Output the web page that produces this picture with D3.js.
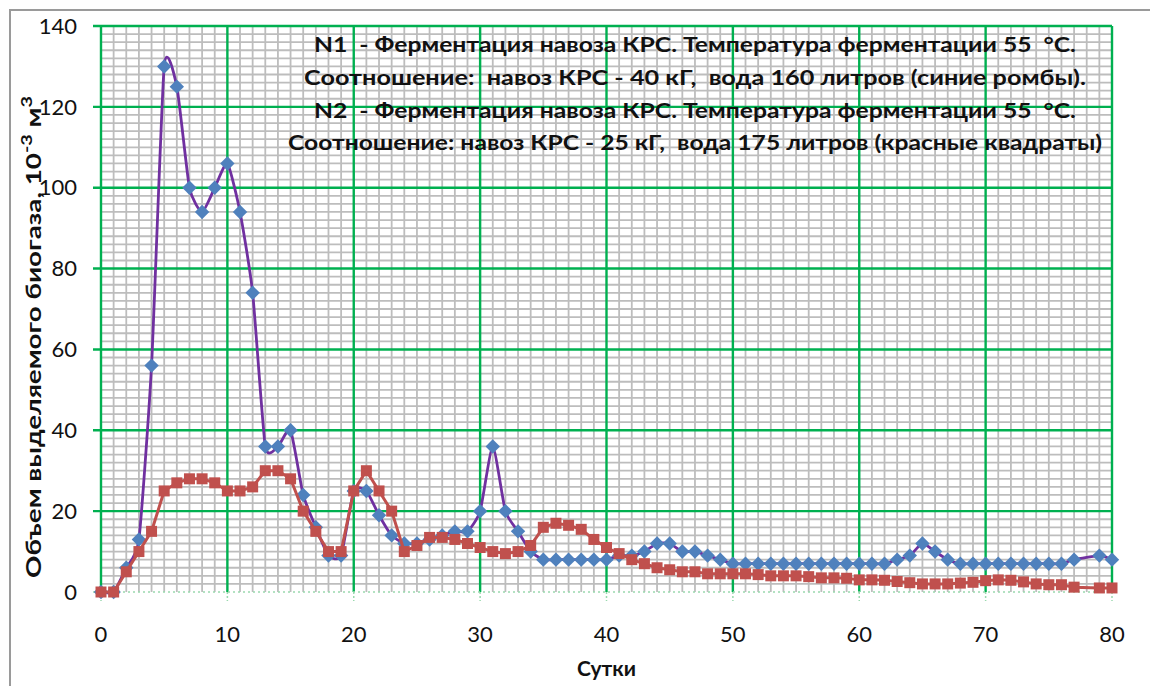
<!DOCTYPE html>
<html>
<head>
<meta charset="utf-8">
<script src="https://cdn.jsdelivr.net/npm/d3@7"></script>
<style>
  body { margin: 0; background: #fff; }
  svg { display: block; font-family: Lato, "Open Sans", sans-serif; }
  text { white-space: pre; }
</style>
</head>
<body>
<script>
const width = 1150, height = 686;

// days (no measurement on day 78)
const days = [0, 1, 2, 3, 4, 5, 6, 7, 8, 9, 10, 11, 12, 13, 14, 15, 16, 17, 18, 19,
    20, 21, 22, 23, 24, 25, 26, 27, 28, 29, 30, 31, 32, 33, 34, 35, 36, 37, 38, 39,
    40, 41, 42, 43, 44, 45, 46, 47, 48, 49, 50, 51, 52, 53, 54, 55, 56, 57, 58, 59,
    60, 61, 62, 63, 64, 65, 66, 67, 68, 69, 70, 71, 72, 73, 74, 75, 76, 77, 79, 80];

// N1 - blue diamonds
const seriesN1 = [0, 0, 6, 13, 56, 130, 125, 100, 94, 100, 106, 94, 74, 36, 36, 40, 24, 16, 9, 9,
    25, 25, 19, 14, 12, 12, 13, 14, 15, 15, 20, 36, 20, 15, 10, 8, 8, 8, 8, 8,
    8, 9, 9, 10, 12, 12, 10, 10, 9, 8, 7, 7, 7, 7, 7, 7, 7, 7, 7, 7,
    7, 7, 7, 8, 9, 12, 10, 8, 7, 7, 7, 7, 7, 7, 7, 7, 7, 8, 9, 8];

// N2 - red squares
const seriesN2 = [0, 0, 5, 10, 15, 25, 27, 28, 28, 27, 25, 25, 26, 30, 30, 28, 20, 15, 10, 10,
    25, 30, 25, 20, 10, 11.5, 13.5, 13.5, 13, 12, 11, 10, 9.5, 10, 11.5, 16, 17, 16.5, 15.5, 13,
    11, 9.5, 8, 7, 6, 5.5, 5, 5, 4.5, 4.5, 4.5, 4.5, 4.3, 4, 4, 4, 3.8, 3.5, 3.5, 3.4,
    3, 3, 2.9, 2.6, 2.3, 2, 2, 2, 2.2, 2.4, 2.8, 3, 2.9, 2.5, 2, 1.8, 1.8, 1.2, 1, 1];

const xTicks = [0, 10, 20, 30, 40, 50, 60, 70, 80];
const yTicks = [0, 20, 40, 60, 80, 100, 120, 140];

const noteLines = [
    "N1  - Ферментация навоза КРС. Температура ферментации 55  °С.",
    "Соотношение:  навоз КРС - 40 кГ,  вода 160 литров (синие ромбы).",
    "N2  - Ферментация навоза КРС. Температура ферментации 55  °С.",
    "Соотношение: навоз КРС - 25 кГ,  вода 175 литров (красные квадраты)"
];

const plot = { left: 101, right: 1112, top: 26, bottom: 592 };

const svg = d3.select("body").append("svg")
    .attr("width", width)
    .attr("height", height);

// outer chart border
svg.append("rect")
    .attr("x", 10).attr("y", 10)
    .attr("width", width + 20).attr("height", height + 20)
    .attr("fill", "none")
    .attr("stroke", "#9a9a9a")
    .attr("stroke-width", 2);

const x = d3.scaleLinear().domain([0, 80]).range([plot.left, plot.right]);
const y = d3.scaleLinear().domain([0, 140]).range([plot.bottom, plot.top]);

// minor grid
const g = svg.append("g");
g.selectAll(".vminor")
    .data(d3.range(1, 80).filter(d => d % 10 !== 0))
    .enter().append("line")
    .attr("x1", d => x(d)).attr("x2", d => x(d))
    .attr("y1", plot.top).attr("y2", plot.bottom)
    .attr("stroke", "#bdbdbd").attr("stroke-width", 1.8);

g.selectAll(".hminor")
    .data(d3.range(2, 140, 2).filter(d => d % 20 !== 0))
    .enter().append("line")
    .attr("x1", plot.left).attr("x2", plot.right)
    .attr("y1", d => y(d)).attr("y2", d => y(d))
    .attr("stroke", "#bdbdbd").attr("stroke-width", 1.8);

// major grid (green)
g.selectAll(".vmajor")
    .data(xTicks.slice(1))
    .enter().append("line")
    .attr("x1", d => x(d)).attr("x2", d => x(d))
    .attr("y1", plot.top).attr("y2", plot.bottom)
    .attr("stroke", "#00b050").attr("stroke-width", 2.4);

g.selectAll(".hmajor")
    .data(yTicks.slice(1))
    .enter().append("line")
    .attr("x1", plot.left - 8).attr("x2", plot.right)
    .attr("y1", d => y(d)).attr("y2", d => y(d))
    .attr("stroke", "#00b050").attr("stroke-width", 2.4);

// y axis line
g.append("line")
    .attr("x1", plot.left).attr("x2", plot.left)
    .attr("y1", plot.top).attr("y2", plot.bottom)
    .attr("stroke", "#00b050").attr("stroke-width", 2.4);

// x axis (dotted light green)
g.append("line")
    .attr("x1", plot.left - 8).attr("x2", plot.right)
    .attr("y1", plot.bottom).attr("y2", plot.bottom)
    .attr("stroke", "#9ad9ae").attr("stroke-width", 1.5)
    .attr("stroke-dasharray", "2,3");

g.selectAll(".xtick")
    .data(xTicks)
    .enter().append("line")
    .attr("x1", d => x(d)).attr("x2", d => x(d))
    .attr("y1", plot.bottom).attr("y2", plot.bottom + 9)
    .attr("stroke", "#9ad9ae").attr("stroke-width", 1.5)
    .attr("stroke-dasharray", "2,2");

// tick labels
svg.selectAll(".ylabel")
    .data(yTicks)
    .enter().append("text")
    .attr("x", 77)
    .attr("y", d => y(d))
    .attr("dy", "0.35em")
    .attr("text-anchor", "end")
    .attr("font-size", "22px")
    .attr("fill", "#111")
    .text(d => d);

svg.selectAll(".xlabel")
    .data(xTicks)
    .enter().append("text")
    .attr("x", d => x(d))
    .attr("y", 634)
    .attr("dy", "0.35em")
    .attr("text-anchor", "middle")
    .attr("font-size", "22px")
    .attr("fill", "#111")
    .text(d => d);

// axis titles
svg.append("text")
    .attr("x", (plot.left + plot.right) / 2)
    .attr("y", 676)
    .attr("text-anchor", "middle")
    .attr("font-size", "21px")
    .attr("font-weight", "bold")
    .attr("fill", "#111")
    .text("Сутки");

const yTitle = svg.append("text")
    .attr("transform", "translate(41,337) rotate(-90)")
    .attr("text-anchor", "middle")
    .attr("font-size", "21px")
    .attr("font-weight", "bold")
    .attr("fill", "#111")
    .attr("textLength", 482)
    .attr("lengthAdjust", "spacingAndGlyphs");
yTitle.append("tspan").text("Объем выделяемого биогаза, 10");
yTitle.append("tspan").attr("baseline-shift", "super").attr("font-size", "15px").text("-3");
yTitle.append("tspan").text(" м");
yTitle.append("tspan").attr("baseline-shift", "super").attr("font-size", "15px").text("3");

// annotation
const noteY = [52, 85, 118, 150];
const noteW = [762, 782, 762, 814];
svg.selectAll(".note")
    .data(noteLines)
    .enter().append("text")
    .attr("x", 695)
    .attr("y", (d, i) => noteY[i])
    .attr("text-anchor", "middle")
    .attr("font-size", "21px")
    .attr("font-weight", "bold")
    .attr("fill", "#111")
    .attr("textLength", (d, i) => noteW[i])
    .attr("lengthAdjust", "spacingAndGlyphs")
    .text(d => d);

// series
const n1 = days.map((d, i) => ({ day: d, v: seriesN1[i] }));
const n2 = days.map((d, i) => ({ day: d, v: seriesN2[i] }));

svg.append("path")
    .datum(n1)
    .attr("fill", "none")
    .attr("stroke", "#7030a0")
    .attr("stroke-width", 2.8)
    .attr("d", d3.line().x(d => x(d.day)).y(d => y(d.v)).curve(d3.curveCardinal.tension(0.45)));

svg.selectAll(".diamond")
    .data(n1)
    .enter().append("path")
    .attr("transform", d => `translate(${x(d.day)},${y(d.v)}) rotate(45)`)
    .attr("d", d3.symbol(d3.symbolSquare, 104))
    .attr("fill", "#4f81bd");

svg.append("path")
    .datum(n2)
    .attr("fill", "none")
    .attr("stroke", "#c0504d")
    .attr("stroke-width", 3)
    .attr("d", d3.line().x(d => x(d.day)).y(d => y(d.v)));

svg.selectAll(".square")
    .data(n2)
    .enter().append("path")
    .attr("transform", d => `translate(${x(d.day)},${y(d.v)})`)
    .attr("d", d3.symbol(d3.symbolSquare, 121))
    .attr("fill", "#c0504d");
</script>
</body>
</html>
